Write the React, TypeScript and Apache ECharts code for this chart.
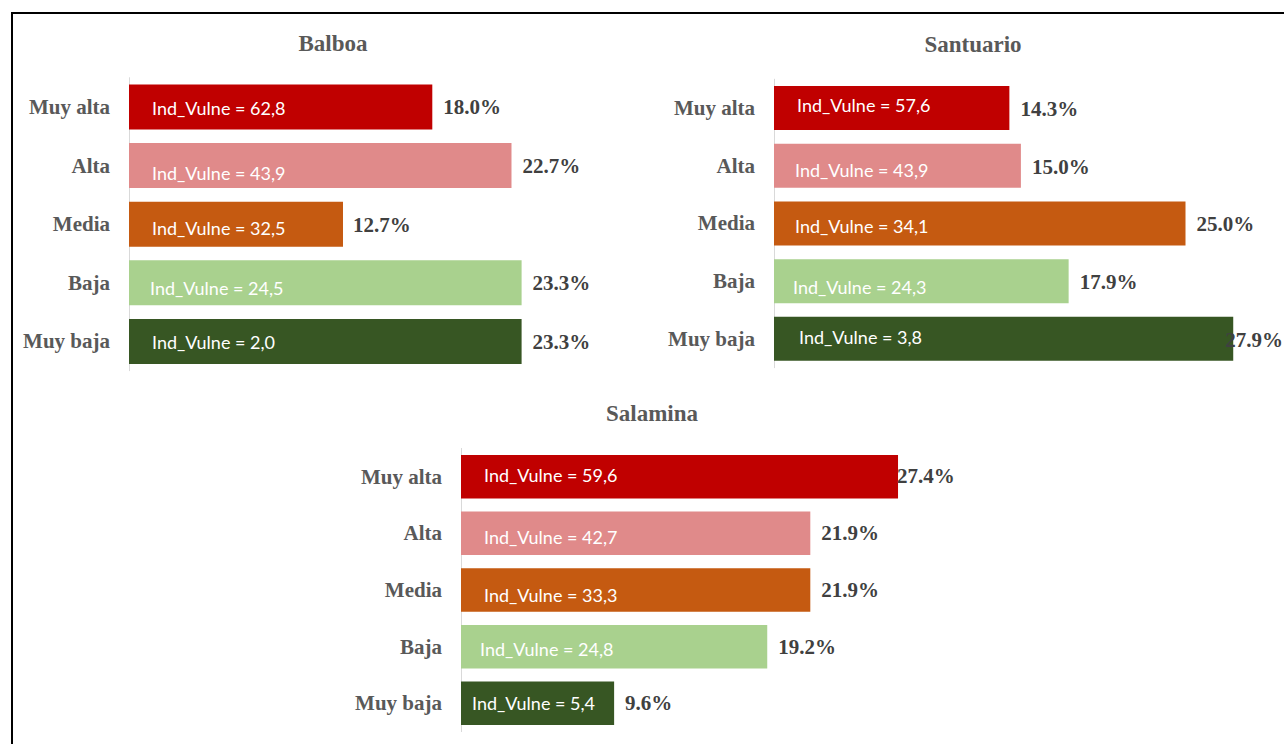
import React, { useEffect, useRef } from "react";
import * as echarts from "echarts";

const categories = ["Muy alta", "Alta", "Media", "Baja", "Muy baja"];
const barColors = ["#C00000", "#E08A8A", "#C55A11", "#A9D18E", "#375623"];

const balboaPct = [18.0, 22.7, 12.7, 23.3, 23.3];
const balboaInd = [62.8, 43.9, 32.5, 24.5, 2.0];
const santuarioPct = [14.3, 15.0, 25.0, 17.9, 27.9];
const santuarioInd = [57.6, 43.9, 34.1, 24.3, 3.8];
const salaminaPct = [27.4, 21.9, 21.9, 19.2, 9.6];
const salaminaInd = [59.6, 42.7, 33.3, 24.8, 5.4];

const panels = [
  {
    name: "Balboa",
    pct: balboaPct,
    ind: balboaInd,
    grid: { left: 129, top: 77.7, width: 505.5, height: 293 },
    barWidth: 45,
    title: [333, 43],
    inOff: [[23, 1], [23, 7.5], [23, 3.5], [21, 5], [23, 1]],
    pctOff: [[1, 0], [1, 0], [0, 0.5], [1, 0.5], [1, 0.5]],
  },
  {
    name: "Santuario",
    pct: santuarioPct,
    ind: santuarioInd,
    grid: { left: 774, top: 79.2, width: 493.8, height: 288.5 },
    barWidth: 44,
    title: [973, 44],
    inOff: [[23, -3.5], [21, 4], [21, 2.5], [19, 6], [25, -2]],
    pctOff: [[1, 1], [1, 1], [1, 0.5], [1, 0.5], [-18, 1]],
  },
  {
    name: "Salamina",
    pct: salaminaPct,
    ind: salaminaInd,
    grid: { left: 461, top: 448.4, width: 478.5, height: 283.2 },
    barWidth: 43.5,
    title: [652, 413],
    inOff: [[23, -2], [23, 3.5], [23, 5], [19, 2.5], [11, 0]],
    pctOff: [[-11, -1], [1, 0], [1, 0], [1, 0], [1, 0]],
  },
];

const serif = "'Liberation Serif', 'Times New Roman', serif";
const sans = "Lato, 'Open Sans', sans-serif";

export default function App() {
  const ref = useRef<HTMLDivElement>(null);
  useEffect(() => {
    if (!ref.current) return;
    const chart = echarts.init(ref.current, undefined, { renderer: "svg" });
    const grids: any[] = [];
    const xAxes: any[] = [];
    const yAxes: any[] = [];
    const series: any[] = [];
    const graphics: any[] = [
      {
        type: "rect",
        shape: { x: 12, y: 13, width: 1300, height: 800 },
        style: { fill: "none", stroke: "#000", lineWidth: 2 },
        silent: true,
      },
    ];
    panels.forEach((p, i) => {
      grids.push({ ...p.grid, containLabel: false });
      xAxes.push({
        gridIndex: i,
        type: "value",
        min: 0,
        max: 30,
        show: false,
      });
      yAxes.push({
        gridIndex: i,
        type: "category",
        inverse: true,
        data: categories,
        axisLine: { show: true, lineStyle: { color: "#D9D9D9", width: 1 } },
        axisTick: { show: false },
        splitLine: { show: false },
        axisLabel: {
          fontFamily: serif,
          fontWeight: "bold",
          fontSize: 21,
          color: "#595959",
          margin: 19,
        },
      });
      series.push({
        type: "bar",
        xAxisIndex: i,
        yAxisIndex: i,
        barWidth: p.barWidth,
        barGap: "-100%",
        silent: true,
        data: p.pct.map((v, k) => ({
          value: v,
          itemStyle: { color: barColors[k] },
          label: {
            show: true,
            position: "insideLeft",
            distance: 0,
            offset: p.inOff[k],
            formatter: "Ind_Vulne = " + p.ind[k].toFixed(1).replace(".", ","),
            color: "#FFFFFF",
            fontFamily: sans,
            fontSize: 18,
          },
        })),
      });
      series.push({
        type: "bar",
        xAxisIndex: i,
        yAxisIndex: i,
        barWidth: p.barWidth,
        barGap: "-100%",
        silent: true,
        z: 3,
        itemStyle: { color: "rgba(0,0,0,0)" },
        data: p.pct.map((v, k) => ({
          value: v,
          label: {
            show: true,
            position: "right",
            distance: 10,
            offset: p.pctOff[k],
            formatter: v.toFixed(1) + "%",
            color: "#404040",
            fontFamily: serif,
            fontWeight: "bold",
            fontSize: 21,
          },
        })),
      });
      graphics.push({
        type: "text",
        x: p.title[0],
        y: p.title[1],
        silent: true,
        style: {
          text: p.name,
          fontFamily: serif,
          fontWeight: "bold",
          fontSize: 23,
          fill: "#595959",
          textAlign: "center",
          textVerticalAlign: "middle",
        },
      });
    });
    chart.setOption({
      animation: false,
      backgroundColor: "#FFFFFF",
      grid: grids,
      xAxis: xAxes,
      yAxis: yAxes,
      series,
      graphic: graphics,
    });
    return () => chart.dispose();
  }, []);
  return (
    <div
      ref={ref}
      style={{ position: "fixed", left: 0, top: 0, width: 1284, height: 744 }}
    />
  );
}
